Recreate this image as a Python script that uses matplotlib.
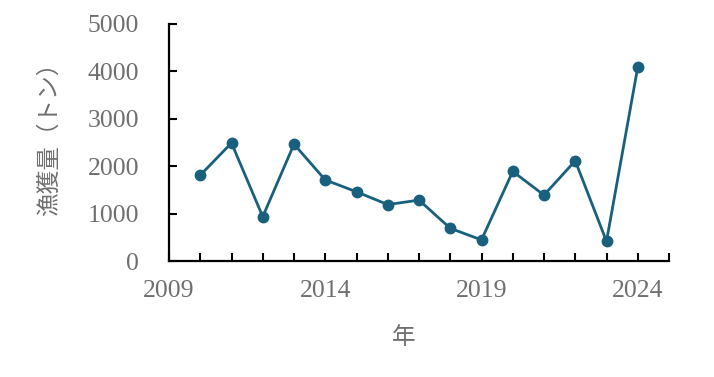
import matplotlib
matplotlib.use("Agg")
import matplotlib.pyplot as plt
from matplotlib.ticker import FixedLocator, MultipleLocator

years = [2010, 2011, 2012, 2013, 2014, 2015, 2016, 2017, 2018, 2019, 2020, 2021, 2022, 2023, 2024]
catch = [1810, 2490, 935, 2465, 1710, 1460, 1190, 1285, 690, 445, 1890, 1390, 2115, 415, 4090]
x_tick_labels = [2009, 2014, 2019, 2024]
y_ticks = [0, 1000, 2000, 3000, 4000, 5000]
x_label = "年"
y_label = "漁獲量（トン）"

gray = "#6f6f6f"
line_color = "#19607f"

fig = plt.figure(figsize=(7.14, 3.77), dpi=100)
ax = fig.add_axes([169/714, 1-261/377, 500/714, 237/377])

ax.plot(years, catch, color=line_color, lw=2.0, marker="o", ms=7.5, mec=line_color, mfc=line_color)

ax.set_xlim(2009, 2025)
ax.set_ylim(0, 5000)
ax.xaxis.set_major_locator(FixedLocator(x_tick_labels))
ax.xaxis.set_minor_locator(MultipleLocator(1))
ax.set_yticks(y_ticks)

for s in ["top", "right"]:
    ax.spines[s].set_visible(False)
for s in ["left", "bottom"]:
    ax.spines[s].set_linewidth(1.6)
    ax.spines[s].set_color("black")

ax.tick_params(axis="x", which="major", direction="in", length=6, width=1.5, pad=14, labelcolor=gray, labelsize=18.5)
ax.tick_params(axis="x", which="minor", direction="in", length=6, width=1.5)
ax.tick_params(axis="y", direction="in", length=6, width=1.5, pad=21.5, labelcolor=gray, labelsize=18.5)
for lab in ax.get_xticklabels() + ax.get_yticklabels():
    lab.set_family("Liberation Serif")

fig.text(49/714, 1-133/377, y_label, rotation=90, ha="center", va="center",
         fontsize=17, color=gray, family=["Noto Sans CJK JP", "DejaVu Sans"])
fig.text(404/714, 1-337/377, x_label, ha="center", va="center",
         fontsize=17, color=gray, family=["Noto Sans CJK JP", "DejaVu Sans"])

fig.savefig("out.png", dpi=100)
